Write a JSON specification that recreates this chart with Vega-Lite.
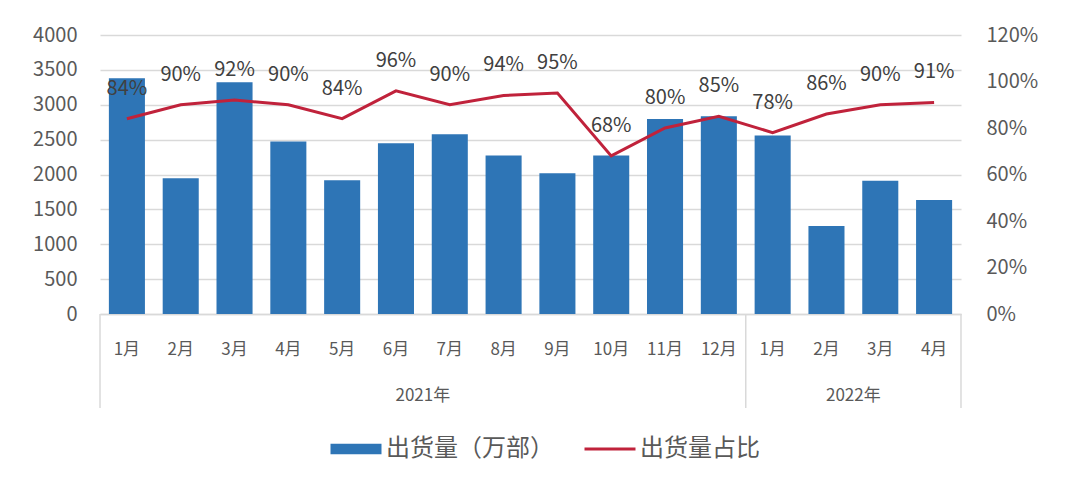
{
  "$schema": "https://vega.github.io/schema/vega-lite/v6.json",
  "width": 861,
  "height": 279,
  "padding": {"left": 32, "top": 25, "right": 5, "bottom": 5},
  "background": "white",
  "config": {
    "font": "Noto Sans CJK SC",
    "view": {"stroke": null},
    "legend": {"labelFont": "Noto Sans CJK SC"}
  },
  "datasets": {
    "main": [
      {"id": "2021-01", "ship": 3380, "pct": 0.84},
      {"id": "2021-02", "ship": 1948, "pct": 0.90},
      {"id": "2021-03", "ship": 3322, "pct": 0.92},
      {"id": "2021-04", "ship": 2472, "pct": 0.90},
      {"id": "2021-05", "ship": 1919, "pct": 0.84},
      {"id": "2021-06", "ship": 2449, "pct": 0.96},
      {"id": "2021-07", "ship": 2578, "pct": 0.90},
      {"id": "2021-08", "ship": 2272, "pct": 0.94},
      {"id": "2021-09", "ship": 2019, "pct": 0.95},
      {"id": "2021-10", "ship": 2272, "pct": 0.68},
      {"id": "2021-11", "ship": 2797, "pct": 0.80},
      {"id": "2021-12", "ship": 2835, "pct": 0.85},
      {"id": "2022-01", "ship": 2558, "pct": 0.78},
      {"id": "2022-02", "ship": 1260, "pct": 0.86},
      {"id": "2022-03", "ship": 1909, "pct": 0.90},
      {"id": "2022-04", "ship": 1633, "pct": 0.91}
    ],
    "years": [
      {"id": "2021-06", "label": "2021年", "ship": -1170},
      {"id": "2022-02", "label": "2022年", "ship": -1170}
    ],
    "sepsLeft": [
      {"id": "2021-01", "ship": 0, "ship2": -1346},
      {"id": "2022-01", "ship": 0, "ship2": -1346}
    ],
    "sepsRight": [
      {"id": "2022-04", "ship": 0, "ship2": -1346}
    ]
  },
  "layer": [
    {
      "layer": [
        {
          "data": {"name": "main"},
          "mark": {"type": "bar"},
          "encoding": {
            "x": {
              "field": "id",
              "type": "ordinal",
              "scale": {"paddingInner": 0.33, "paddingOuter": 0.165},
              "axis": {
                "title": null,
                "ticks": false,
                "domainColor": "#d9d9d9",
                "domainWidth": 1.5,
                "labelExpr": "toNumber(split(datum.value, '-')[1]) + '月'",
                "labelFontSize": 17,
                "labelColor": "#595959",
                "labelPadding": 27,
                "labelAngle": 0
              }
            },
            "y": {
              "field": "ship",
              "type": "quantitative",
              "scale": {"domain": [0, 4000], "nice": false},
              "axis": {
                "title": null,
                "values": [0, 500, 1000, 1500, 2000, 2500, 3000, 3500, 4000],
                "format": "d",
                "labelOverlap": false,
                "ticks": false,
                "domain": false,
                "gridColor": "#d9d9d9",
                "gridWidth": 1.5,
                "labelFontSize": 20,
                "labelColor": "#595959",
                "labelPadding": 23
              }
            },
            "color": {
              "datum": "出货量（万部）",
              "type": "nominal",
              "scale": {"domain": ["出货量（万部）", "出货量占比"], "range": ["#2e75b6", "#c0223b"]},
              "legend": {
                "title": null,
                "orient": "none",
                "legendX": 244,
                "legendY": 402,
                "direction": "horizontal",
                "labelFontSize": 24,
                "labelColor": "#595959",
                "labelLimit": 0,
                "labelOffset": 18,
                "columnPadding": 24,
                "symbolSize": 2600,
                "encode": {
                  "symbols": {
                    "update": {
                      "shape": {"signal": "datum.value === '出货量占比' ? 'M-1,0H1' : 'M-1,-0.21H1V0.21H-1Z'"},
                      "fill": {"signal": "datum.value === '出货量占比' ? 'transparent' : '#2e75b6'"},
                      "stroke": {"signal": "datum.value === '出货量占比' ? '#c0223b' : 'transparent'"},
                      "strokeWidth": {"signal": "datum.value === '出货量占比' ? 3 : 0"},
                      "opacity": {"value": 1}
                    }
                  }
                }
              }
            }
          }
        },
        {
          "data": {"name": "sepsLeft"},
          "mark": {"type": "rule", "color": "#d9d9d9", "strokeWidth": 1.5},
          "encoding": {
            "x": {"field": "id", "type": "ordinal", "bandPosition": -0.246},
            "y": {
              "field": "ship",
              "type": "quantitative",
              "axis": {
                "title": null,
                "values": [0, 500, 1000, 1500, 2000, 2500, 3000, 3500, 4000],
                "format": "d",
                "labelOverlap": false,
                "ticks": false,
                "domain": false,
                "gridColor": "#d9d9d9",
                "gridWidth": 1.5,
                "labelFontSize": 20,
                "labelColor": "#595959",
                "labelPadding": 23
              }
            },
            "y2": {"field": "ship2"}
          }
        },
        {
          "data": {"name": "sepsRight"},
          "mark": {"type": "rule", "color": "#d9d9d9", "strokeWidth": 1.5},
          "encoding": {
            "x": {"field": "id", "type": "ordinal", "bandPosition": 1.246},
            "y": {
              "field": "ship",
              "type": "quantitative",
              "axis": {
                "title": null,
                "values": [0, 500, 1000, 1500, 2000, 2500, 3000, 3500, 4000],
                "format": "d",
                "labelOverlap": false,
                "ticks": false,
                "domain": false,
                "gridColor": "#d9d9d9",
                "gridWidth": 1.5,
                "labelFontSize": 20,
                "labelColor": "#595959",
                "labelPadding": 23
              }
            },
            "y2": {"field": "ship2"}
          }
        },
        {
          "data": {"name": "years"},
          "mark": {"type": "text", "fontSize": 17, "color": "#595959", "baseline": "middle", "align": "center"},
          "encoding": {
            "x": {"field": "id", "type": "ordinal", "bandPosition": 1.246},
            "y": {
              "field": "ship",
              "type": "quantitative",
              "axis": {
                "title": null,
                "values": [0, 500, 1000, 1500, 2000, 2500, 3000, 3500, 4000],
                "format": "d",
                "labelOverlap": false,
                "ticks": false,
                "domain": false,
                "gridColor": "#d9d9d9",
                "gridWidth": 1.5,
                "labelFontSize": 20,
                "labelColor": "#595959",
                "labelPadding": 23
              }
            },
            "text": {"field": "label"}
          }
        }
      ]
    },
    {
      "data": {"name": "main"},
      "encoding": {
        "x": {"field": "id", "type": "ordinal"},
        "y": {
          "field": "pct",
          "type": "quantitative",
          "scale": {"domain": [0, 1.2], "nice": false},
          "axis": {
            "orient": "right",
            "title": null,
            "values": [0, 0.2, 0.4, 0.6, 0.8, 1.0, 1.2],
            "format": ".0%",
            "grid": false,
            "ticks": false,
            "domain": false,
            "labelFontSize": 20,
            "labelColor": "#595959",
            "labelPadding": 25
          }
        }
      },
      "layer": [
        {
          "mark": {"type": "line", "strokeWidth": 3},
          "encoding": {"color": {"datum": "出货量占比", "type": "nominal"}}
        },
        {
          "mark": {"type": "text", "fontSize": 20, "color": "#404040", "baseline": "middle", "dy": -30},
          "encoding": {"text": {"field": "pct", "type": "quantitative", "format": ".0%"}}
        }
      ]
    }
  ],
  "resolve": {"scale": {"y": "independent"}}
}
